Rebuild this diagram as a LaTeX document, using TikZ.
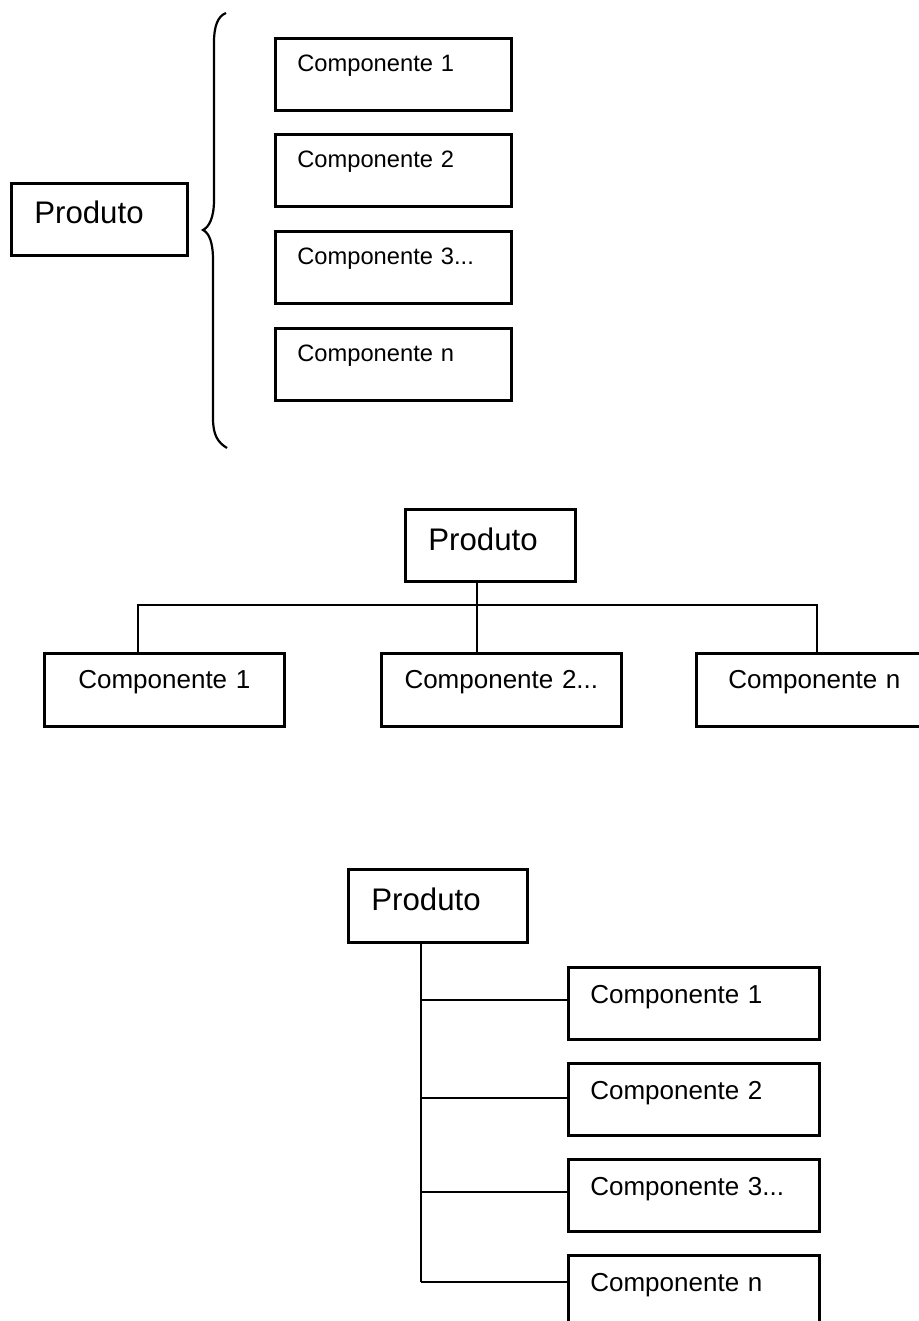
\documentclass[tikz,border=0pt]{standalone}
\usepackage{fontspec}
\setmainfont{Liberation Sans}
\begin{document}
\begin{tikzpicture}[x=0.5pt, y=-0.5pt,
  box/.style={draw, rectangle, line width=1.35pt, inner ysep=0pt, anchor=north west},
  lbox/.style={box, align=left},
  cbox/.style={box, align=center, inner xsep=0pt},
  link/.style={line width=1.1pt},
  fprod/.style={font=\fontsize{15.6pt}{18pt}\selectfont},
  fsmall/.style={font=\fontsize{11.85pt}{14pt}\selectfont},
  fmid/.style={font=\fontsize{13pt}{15pt}\selectfont},
  % boxes hanging from the brace
  s1comp/.style={lbox, fsmall, inner xsep=11pt, text width=96pt, text height=16.5pt, text depth=19.5pt},
  % boxes of the horizontal tree
  s2comp/.style={cbox, fmid, text height=17.75pt, text depth=18.75pt},
  % boxes of the indented tree
  s3comp/.style={lbox, fmid, inner xsep=11pt, text width=103.5pt, text height=18pt, text depth=18pt},
]
\useasboundingbox (0,0) rectangle (918,1321);

% ---------- decomposition with a brace ----------
\node[lbox, fprod, inner xsep=11.5pt, text width=65pt, text height=20pt, text depth=16pt]
  (p1) at (10,182) {Produto};
\node[s1comp] (c11) at (274,37)  {Componente 1};
\node[s1comp] (c12) at (274,133) {Componente 2};
\node[s1comp] (c13) at (274,230) {Componente 3...};
\node[s1comp] (c1n) at (274,327) {Componente n};

\draw[line width=1.1pt]
  (226,13) .. controls (218,16) and (214,26) .. (214,42)
  -- (214,200) .. controls (214,218) and (209,227) .. (203,230)
  .. controls (209,233) and (213,242) .. (213,260)
  -- (213,418) .. controls (213,434) and (217,442) .. (227,448);

% ---------- horizontal tree ----------
\node[lbox, fprod, inner xsep=11.5pt, text width=62pt, text height=20.5pt, text depth=15.5pt]
  (p2) at (404,508) {Produto};
\node[s2comp, text width=120pt] (c21) at (43,652)  {Componente 1};
\node[s2comp, text width=120pt] (c22) at (380,652) {Componente 2...};
\node[s2comp, text width=118pt] (c2n) at (695,652) {Componente n};

\coordinate (busL) at (138,605);
\coordinate (busM) at (477,605);
\coordinate (busR) at (817,605);
\draw[link] (busM |- p2.south) -- (busM |- c22.north);
\draw[link] (busL |- c21.north) -- (busL) -- (busR) -- (busR |- c2n.north);

% ---------- indented tree ----------
\node[lbox, fprod, inner xsep=11.5pt, text width=66.5pt, text height=20.5pt, text depth=16pt]
  (p3) at (347,868) {Produto};
\node[s3comp] (c31) at (567,966)  {Componente 1};
\node[s3comp] (c32) at (567,1062) {Componente 2};
\node[s3comp] (c33) at (567,1158) {Componente 3...};
\node[s3comp] (c3n) at (567,1254) {Componente n};

\coordinate (t1) at (421,1000);
\coordinate (t2) at (421,1098);
\coordinate (t3) at (421,1192);
\coordinate (t4) at (421,1282);
\draw[link] (t1 |- p3.south) -- (t4);
\draw[link] (t1) -- (t1 -| c31.west);
\draw[link] (t2) -- (t2 -| c32.west);
\draw[link] (t3) -- (t3 -| c33.west);
\draw[link] (t4) -- (t4 -| c3n.west);
\end{tikzpicture}
\end{document}
